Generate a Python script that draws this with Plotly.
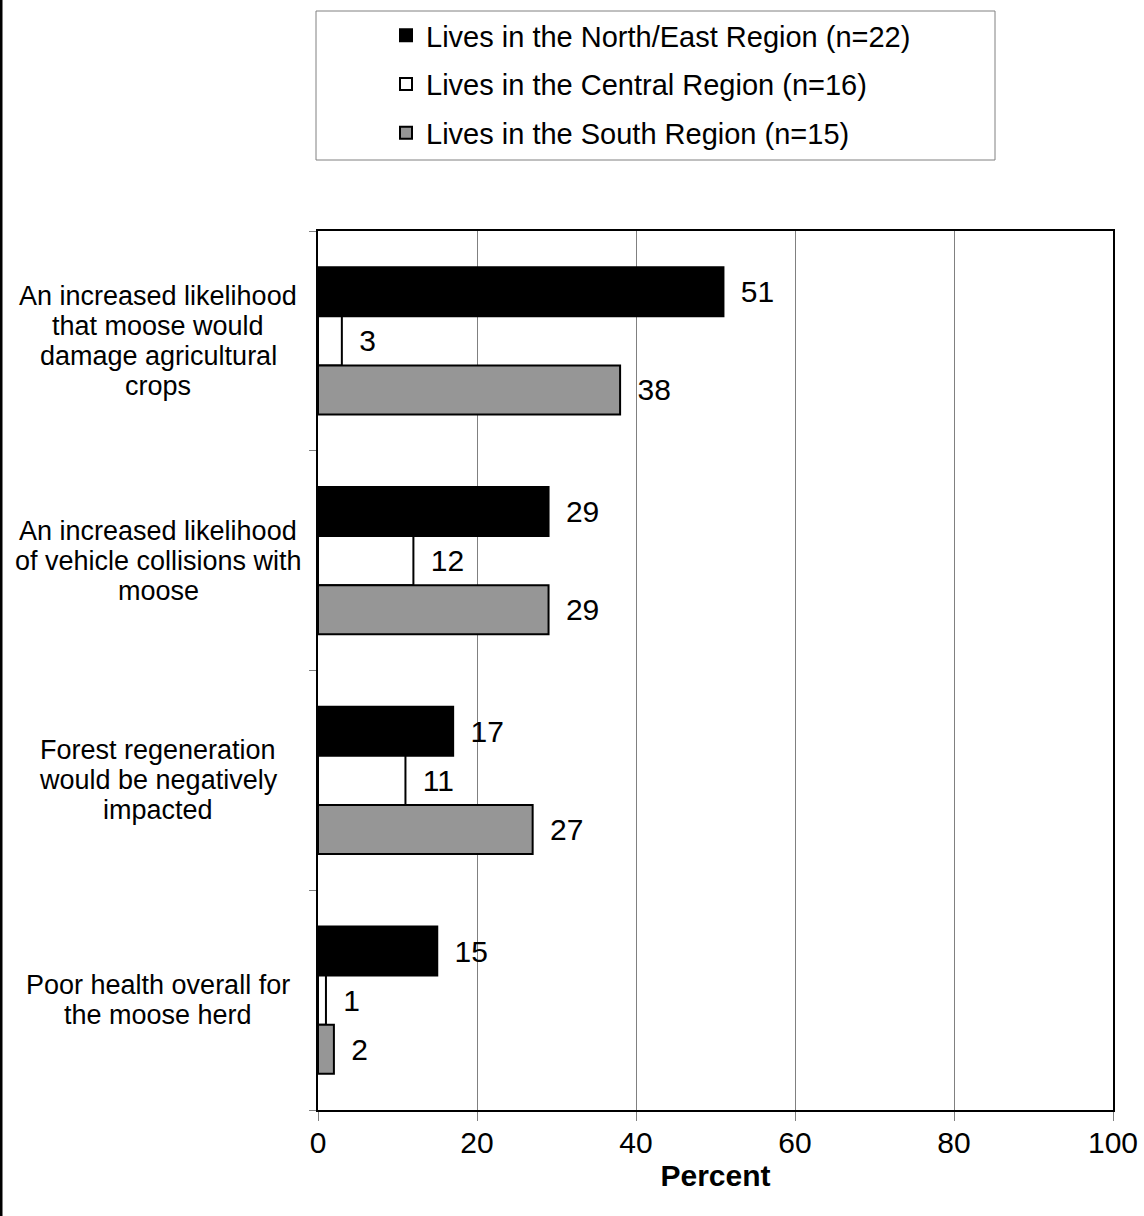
import plotly.graph_objects as go

categories = [
    "An increased likelihood<br>that moose would<br>damage agricultural<br>crops",
    "An increased likelihood<br>of vehicle collisions with<br>moose",
    "Forest regeneration<br>would be negatively<br>impacted",
    "Poor health overall for<br>the moose herd",
]
series_names = [
    "Lives in the North/East Region (n=22)",
    "Lives in the Central Region (n=16)",
    "Lives in the South Region (n=15)",
]
north_east = [51, 29, 17, 15]
central = [3, 12, 11, 1]
south = [38, 29, 27, 2]
x_ticks = [0, 20, 40, 60, 80, 100]

W, H = 1144, 1216
L, R, T, B = 318, 31, 231, 106
PW, PH = W - L - R, H - T - B

def px_x(p):
    return (p - L) / PW

def px_y(p):
    return (H - B - p) / PH

FONT = "Liberation Sans, Arial, sans-serif"
pos = list(range(len(categories)))

fig = go.Figure()
colors = ["#000000", "#ffffff", "#969696"]
for i, (name, vals, col) in enumerate(zip(series_names, [north_east, central, south], colors)):
    fig.add_trace(go.Bar(
        y=pos, x=vals, orientation="h", name=name,
        marker=dict(color=col, line=dict(color="#000000", width=2)),
        text=vals, texttemplate="\u00a0\u2009%{x}", textposition="outside",
        textfont=dict(size=30, color="#000000", family=FONT),
        constraintext="none", cliponaxis=False,
        legendgroup=f"g{i}",
    ))

annotations = []
line_h = 30
for i, lab in enumerate(categories):
    lines = lab.split("<br>")
    n = len(lines)
    for j, ln in enumerate(lines):
        annotations.append(dict(
            x=px_x(158), xref="paper", y=i, yref="y", text=ln,
            showarrow=False, xanchor="center", yanchor="middle",
            yshift=((n - 1) / 2 - j) * line_h,
            font=dict(size=27, color="#000000", family=FONT),
        ))

shapes = [
    dict(type="rect", xref="paper", yref="paper",
         x0=px_x(316), x1=px_x(995), y0=px_y(160), y1=px_y(11),
         line=dict(color="#808080", width=1), fillcolor="rgba(0,0,0,0)", layer="below"),
    dict(type="line", xref="paper", yref="paper",
         x0=px_x(1), x1=px_x(1), y0=px_y(H), y1=px_y(0),
         line=dict(color="#000000", width=3)),
]

fig.update_layout(
    width=W, height=H,
    margin=dict(l=L, r=R, t=T, b=B, pad=0, autoexpand=False),
    paper_bgcolor="#ffffff", plot_bgcolor="#ffffff",
    font=dict(family=FONT, color="#000000"),
    barmode="group", bargap=0.33, bargroupgap=0,
    showlegend=True,
    legend=dict(
        x=px_x(386), y=px_y(10), xanchor="left", yanchor="top",
        bgcolor="rgba(0,0,0,0)", borderwidth=0,
        font=dict(size=29, family=FONT, color="#000000"),
        tracegroupgap=8, traceorder="grouped",
    ),
    xaxis=dict(
        range=[0, 100], tickvals=x_ticks, ticktext=[str(v) for v in x_ticks],
        showgrid=True, gridcolor="#808080", gridwidth=1,
        showline=True, linecolor="#000000", linewidth=2, mirror=True,
        ticks="outside", ticklen=9, tickcolor="#808080", tickwidth=1,
        tickfont=dict(size=30, family=FONT, color="#000000"),
        ticklabelstandoff=-4, automargin=False,
        zeroline=False,
        title=dict(text="<b>Percent</b>", font=dict(size=30, family=FONT, color="#000000"), standoff=7),
    ),
    yaxis=dict(
        range=[3.5, -0.5], tickvals=pos, showticklabels=False, ticks="",
        showgrid=False, zeroline=False, automargin=False,
        showline=True, linecolor="#000000", linewidth=2, mirror=True,
        minor=dict(tick0=0.5, dtick=1, ticks="outside", ticklen=7, tickcolor="#808080", tickwidth=1, showgrid=False),
    ),
    annotations=annotations,
    shapes=shapes,
)

fig.write_html("out.html", config={"displayModeBar": False},
               post_script="document.body.style.margin='0';")
